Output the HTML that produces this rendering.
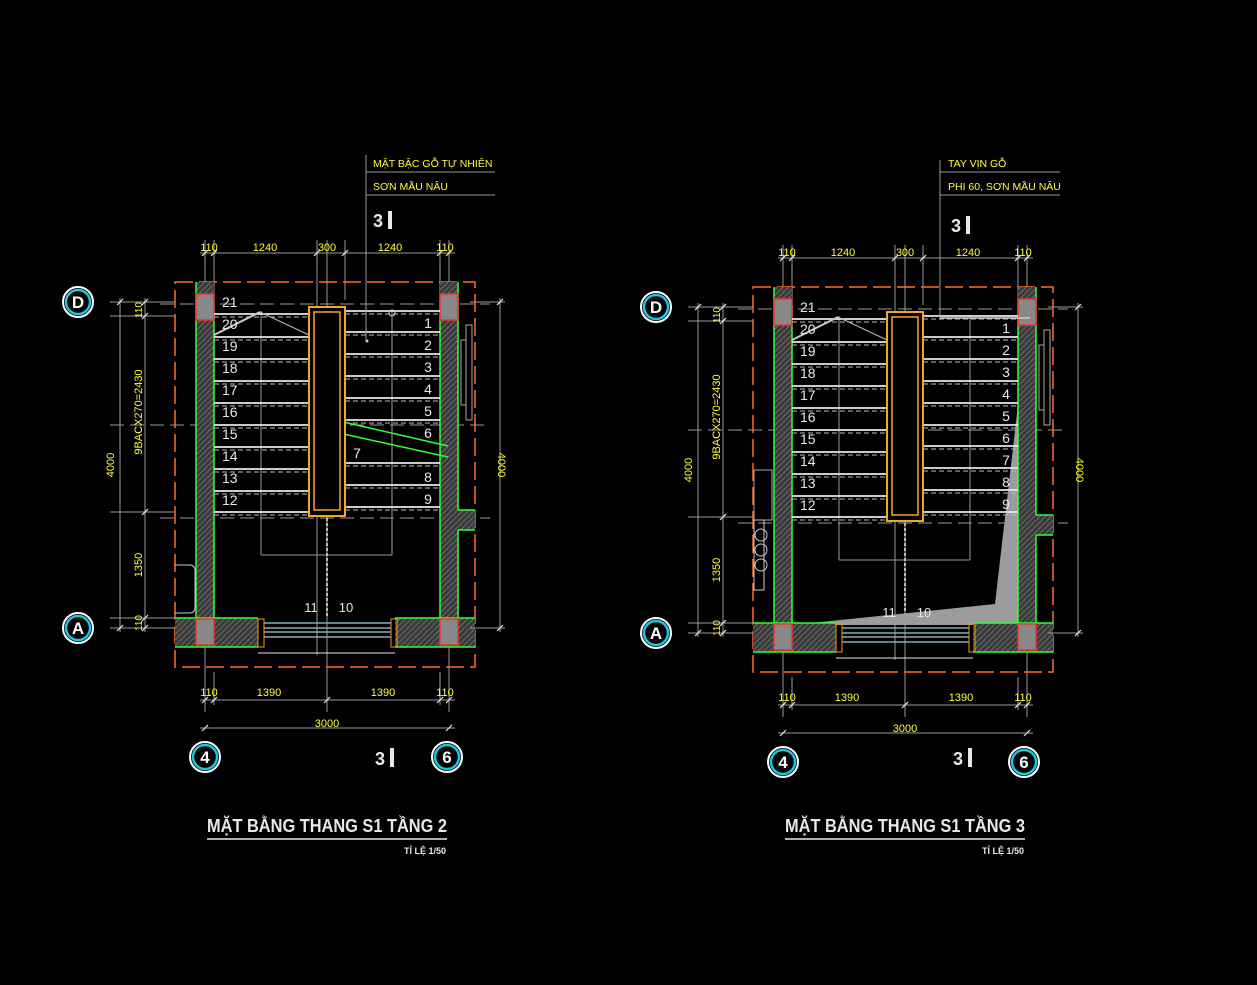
<!DOCTYPE html>
<html><head><meta charset="utf-8">
<style>
html,body{margin:0;padding:0;background:#000;}
svg{display:block;}
text{font-family:"Liberation Sans",sans-serif;}
</style></head>
<body>
<svg id="s" width="1257" height="985" viewBox="0 0 1257 985" xmlns="http://www.w3.org/2000/svg">
<defs>
<pattern id="h" width="4" height="4" patternUnits="userSpaceOnUse" patternTransform="rotate(45)">
<rect width="4" height="4" fill="#3a3a3a"/><line x1="0" y1="0" x2="0" y2="4" stroke="#888" stroke-width="1.2"/>
</pattern>
</defs>
</svg>
<script>
const s=document.getElementById('s');let o='';
function L(x1,y1,x2,y2,c,w,d){o+=`<line x1="${x1}" y1="${y1}" x2="${x2}" y2="${y2}" stroke="${c}" stroke-width="${w||1}" ${d?`stroke-dasharray="${d}"`:''}/>`;}
function R(x,y,w,h,f,st,sw,d){o+=`<rect x="${x}" y="${y}" width="${w}" height="${h}" fill="${f||'none'}" ${st?`stroke="${st}" stroke-width="${sw||1}"`:''} ${d?`stroke-dasharray="${d}"`:''}/>`;}
function T(x,y,t,c,sz,a,ex){o+=`<text x="${x}" y="${y}" fill="${c}" font-size="${sz}" ${a?`text-anchor="${a}"`:''} ${ex||''}>${t}</text>`;}
function C(x,y,t){o+=`<circle cx="${x}" cy="${y}" r="15" fill="#000" stroke="#fff" stroke-width="2"/><circle cx="${x}" cy="${y}" r="12" fill="#000" stroke="#19c6e6" stroke-width="2.5"/>`;T(x,y+6,t,'#fff',17,'middle','font-weight="bold"');}
const Y='#ffff33',G='#9a9a9a',W='#e8e8e8';
function plan(dx,dy,v){
 o+=`<g transform="translate(${dx},${dy})">`;
 // grid/center lines
 L(160,304,490,304,G,1,'14 6');L(160,518,490,518,G,1,'14 6');L(110,425,490,425,G,1,'14 6');
 L(205,240,205,712,G,1);L(449,240,449,712,G,1);L(327,240,327,712,G,1);
 L(317,240,317,655,G,1);L(440,240,440,312,G,1);L(214,240,214,300,G,1);L(345,240,345,300,G,1);
 // box below
 L(261,311,261,555,G,1);L(392,311,392,555,G,1);L(261,555,392,555,G,1);
 L(327,518,327,618,'#bbb',2,'3 2');
 if(v==2){R(752,0,0,0);}
 // outer orange dashed
 R(175,282,300,385,'none','#ff6a2a',1.5,'18 6');
 // gray shading (floor 3)
 if(v==3) o+=`<polygon points="450,313 442,620 214,620 417,599" fill="#9c9c9c"/>`;
 // walls
 R(196,282,18,336,'url(#h)');R(440,282,18,336,'url(#h)');
 R(175,618,83,29,'url(#h)');R(395,618,80,29,'url(#h)');R(458,510,17,20,'url(#h)');
 L(196,282,196,618,'#3f3',1.5);L(214,300,214,618,'#3f3',1.5);L(440,300,440,618,'#3f3',1.5);L(458,282,458,510,'#3f3',1.5);
 L(458,530,458,618,'#3f3',1.5);L(458,510,475,510,'#3f3',1.5);L(458,530,475,530,'#3f3',1.5);
 L(175,618,258,618,'#3f3',1.5);L(395,618,475,618,'#3f3',1.5);L(175,647,258,647,'#3f3',1.5);L(395,647,475,647,'#3f3',1.5);
 // columns
 [[196,294],[440,294],[196,619],[440,619]].forEach(p=>R(p[0],p[1],18,26,'#888','#e33',1.5));
 // window
 R(258,619,6,28,'none','#f90',1);R(391,619,6,28,'none','#f90',1);
 L(264,623,391,623,'#8ab',1.5);L(264,628,391,628,'#8ab',1.5);L(264,632,391,632,'#8ab',1.5);L(264,637,391,637,'#8ab',1.5);
 L(258,653,395,653,W,1);
 // right side door details
 R(466,325,6,95,'none','#aaa',1);R(461,340,5,65,'none','#aaa',1);
 if(v==2){o+=`<path d="M175 565 h15 a5 5 0 0 1 5 5 v38 a5 5 0 0 1 -5 5 h-15" fill="none" stroke="#ccc"/>`;}
 else{R(176,465,18,50,'none','#aaa',1);R(176,515,10,70,'none','#ccc',1);o+=`<circle cx="183" cy="530" r="6" fill="none" stroke="#ccc"/><circle cx="183" cy="545" r="6" fill="none" stroke="#ccc"/><circle cx="183" cy="560" r="6" fill="none" stroke="#ccc"/>`;}
 // treads left
 const ly=[314,337,359,381,403,425,447,469,491,512];
 ly.forEach(y=>{L(214,y,309,y,W,1.8);L(214,y+3,309,y+3,'#bbb',1,'5 3');});
 L(214,335,260,312,'#ccc',2);L(260,312,309,335,'#bbb',1);
 ['21','20','19','18','17','16','15','14','13','12'].forEach((t,i)=>T(222,307+i*22,t,W,14));
 // treads right
 const ry=[311,332,354,376,398,420,441,463,485,507];
 ry.forEach((y,i)=>{if(v==2&&i==6)return;L(345,y,440,y,W,1.8);L(345,y+3,440,y+3,'#bbb',1,'5 3');});
 ['1','2','3','4','5','6','7','8','9'].forEach((t,i)=>{let x=428,y=328+i*22;if(v==2&&i==6){x=357;y=458;}T(x,y,t,W,14,'middle');});
 if(v==2){L(339,421,448,446,'#3f3',1.5);L(339,433,448,457,'#3f3',1.5);o+=`<circle cx="392" cy="313" r="3" fill="none" stroke="#ccc"/><circle cx="367" cy="341" r="1.5" fill="#ccc"/>`;}
 // newel
 R(309,307,36,209,'#000','#f5a623',2);R(314,312,26,198,'none','#f5a623',1.5);
 T(311,612,'11',W,13,'middle');T(346,612,'10',W,13,'middle');
 // dims top
 L(200,253,455,253,G,1);[205,214,317,345,440,449].forEach(x=>{L(x,246,x,272,G,1);L(x-3,256,x+3,250,W,1.2);});
 T(209,251,'110',Y,11,'middle');T(265,251,'1240',Y,11,'middle');T(327,251,'300',Y,11,'middle');T(390,251,'1240',Y,11,'middle');T(445,251,'110',Y,11,'middle');
 // dims bottom
 L(200,700,455,700,G,1);L(200,728,455,728,G,1);[205,214,327,440,449].forEach(x=>{L(x,672,x,705,G,1);L(x-3,703,x+3,697,W,1.2);});
 L(202,731,208,725,W,1.2);L(446,731,452,725,W,1.2);
 T(209,696,'110',Y,11,'middle');T(269,696,'1390',Y,11,'middle');T(383,696,'1390',Y,11,'middle');T(445,696,'110',Y,11,'middle');T(327,727,'3000',Y,11,'middle');
 // dims left
 L(120,298,120,632,G,1);L(145,298,145,632,G,1);[302,316,512,618,628].forEach(y=>{L(110,y,175,y,G,1);});
 [302,628].forEach(y=>L(117,y+3,123,y-3,W,1.2));[302,316,512,618,628].forEach(y=>L(142,y+3,148,y-3,W,1.2));
 T(114,465,'4000',Y,11,'middle','transform="rotate(-90 114 465)"');
 T(142,412,'9BACX270=2430',Y,11,'middle','transform="rotate(-90 142 412)"');
 T(142,565,'1350',Y,11,'middle','transform="rotate(-90 142 565)"');
 T(142,310,'110',Y,10,'middle','transform="rotate(-90 142 310)"');T(142,623,'110',Y,10,'middle','transform="rotate(-90 142 623)"');
 // dims right
 L(500,298,500,632,G,1);[302,628].forEach(y=>{L(470,y,505,y,G,1);L(497,y+3,503,y-3,W,1.2);});
 T(498,465,'4000',Y,11,'middle','transform="rotate(90 498 465)"');
 C(78,302,'D');C(78,628,'A');
 T(378,227,'3',W,18,'middle','font-weight="bold"');R(388,211,4,18,W);
 o+='</g>';
}
plan(0,0,2);plan(578,5,3);
// leaders
L(366,155,366,340,G,1);L(366,172,495,172,G,1);L(366,195,495,195,G,1);
T(373,167,'MẶT BẬC GỖ TỰ NHIÊN',Y,10.5);T(373,190,'SƠN MẦU NÂU',Y,10.5);
L(940,160,940,320,G,1);L(940,172,1060,172,G,1);L(940,195,1060,195,G,1);L(940,318,1030,318,'#ccc',1.5);
T(948,167,'TAY VỊN GỖ',Y,10.5);T(948,190,'PHI 60, SƠN MẦU NÂU',Y,10.5);
C(205,757,'4');C(447,757,'6');C(783,762,'4');C(1024,762,'6');
T(380,765,'3',W,18,'middle','font-weight="bold"');R(390,748,4,19,W);
T(958,765,'3',W,18,'middle','font-weight="bold"');R(968,748,4,19,W);
// titles
T(327,832,'MẶT BẰNG THANG S1 TẦNG 2',W,18,'middle','font-weight="bold" textLength="240" lengthAdjust="spacingAndGlyphs"');
L(207,839,447,839,W,1.5);T(446,854,'TỈ LỆ 1/50',W,9,'end','font-weight="bold"');
T(905,832,'MẶT BẰNG THANG S1 TẦNG 3',W,18,'middle','font-weight="bold" textLength="240" lengthAdjust="spacingAndGlyphs"');
L(785,839,1025,839,W,1.5);T(1024,854,'TỈ LỆ 1/50',W,9,'end','font-weight="bold"');
s.innerHTML+=o;
</script>
</body></html>
